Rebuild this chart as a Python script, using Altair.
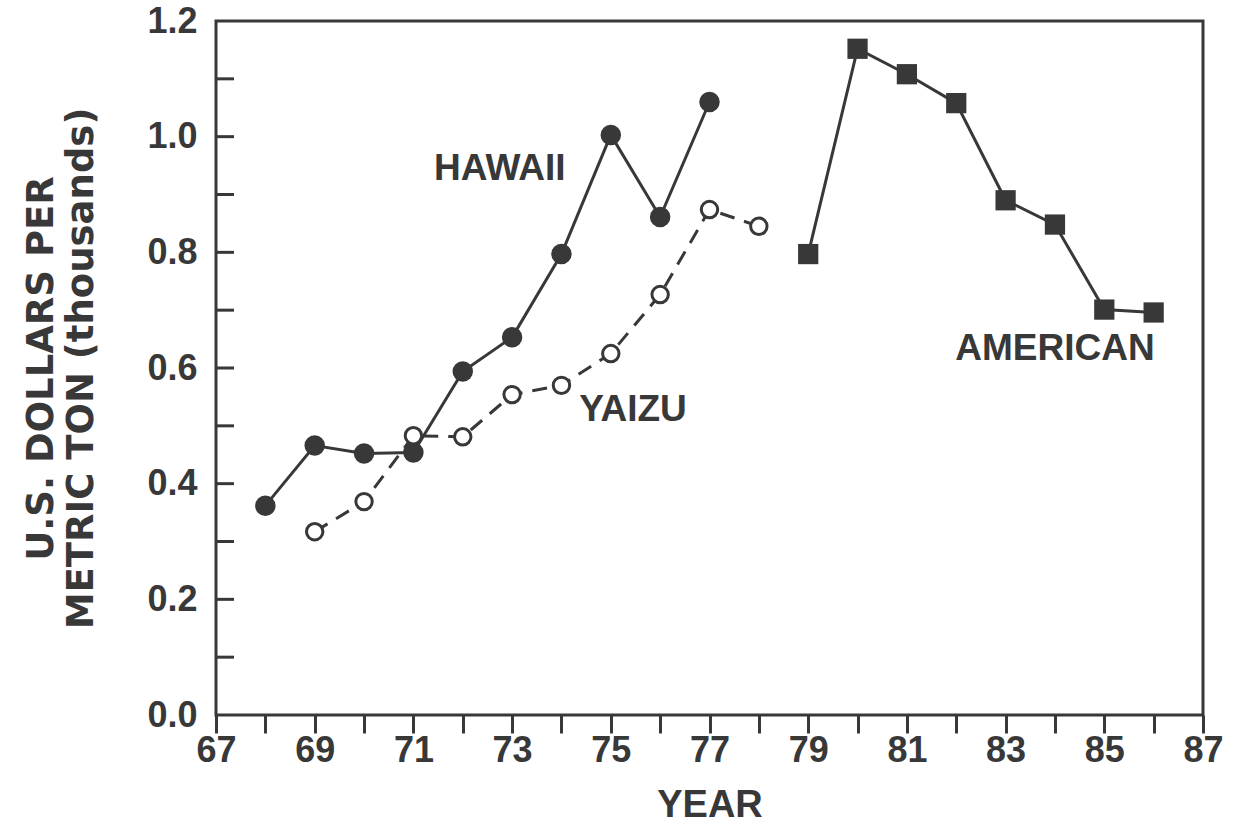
import altair as alt
import pandas as pd

# Price series (thousand US$ per metric ton) by year
hawaii_years = [68, 69, 70, 71, 72, 73, 74, 75, 76, 77]
hawaii_price = [0.362, 0.466, 0.452, 0.454, 0.594, 0.653, 0.797, 1.003, 0.861, 1.060]

yaizu_years = [69, 70, 71, 72, 73, 74, 75, 76, 77, 78]
yaizu_price = [0.317, 0.369, 0.483, 0.481, 0.554, 0.570, 0.625, 0.727, 0.874, 0.845]

american_years = [79, 80, 81, 82, 83, 84, 85, 86]
american_price = [0.797, 1.152, 1.108, 1.058, 0.890, 0.848, 0.701, 0.696]

# Series labels placed in data coordinates
label_text = ["HAWAII", "YAIZU", "AMERICAN"]
label_year = [72.75, 75.45, 84.0]
label_price = [0.944, 0.528, 0.632]

x_ticks = list(range(67, 88))
y_ticks = [round(i * 0.1, 1) for i in range(0, 13)]
y_inner_ticks = [round(i * 0.1, 1) for i in range(1, 12)]

INK = "#383838"
FONT = "Liberation Sans"
WIDE_FONT = "DejaVu Sans"

hawaii = pd.DataFrame({"year": hawaii_years, "price": hawaii_price})
yaizu = pd.DataFrame({"year": yaizu_years, "price": yaizu_price})
american = pd.DataFrame({"year": american_years, "price": american_price})
labels = pd.DataFrame({"text": label_text, "year": label_year, "price": label_price})
yt = pd.DataFrame({"price": y_inner_ticks})

x_scale = alt.Scale(domain=[67, 87], nice=False, zero=False)
y_scale = alt.Scale(domain=[0, 1.2], nice=False)

x_enc = alt.X(
    "year:Q",
    scale=x_scale,
    axis=alt.Axis(
        title="YEAR",
        values=x_ticks,
        labelExpr="datum.value % 2 == 1 ? datum.label : ''",
        tickSize=18,
        tickWidth=3,
        tickColor=INK,
        domain=False,
        grid=False,
        labelFontSize=36,
        labelFont=FONT,
        labelFontWeight="bold",
        labelColor=INK,
        labelPadding=0,
        titleFontSize=38,
        titleFont=FONT,
        titleFontWeight="bold",
        titleColor=INK,
        titlePadding=18,
        labelFlush=False,
    ),
)
y_enc = alt.Y(
    "price:Q",
    scale=y_scale,
    axis=alt.Axis(
        title=["U.S. DOLLARS PER", "METRIC TON (thousands)"],
        values=y_ticks,
        format=".1f",
        labelExpr="round(datum.value * 10) % 2 == 0 ? datum.label : ''",
        ticks=False,
        domain=False,
        grid=False,
        labelFontSize=36,
        labelFont=FONT,
        labelFontWeight="bold",
        labelColor=INK,
        labelPadding=19,
        titleFontSize=37,
        titleFont=WIDE_FONT,
        titleFontWeight="bold",
        titleColor=INK,
        titlePadding=46,
        titleLineHeight=40,
        labelFlush=False,
    ),
)

hawaii_line = alt.Chart(hawaii).mark_line(color=INK, strokeWidth=3).encode(x=x_enc, y=y_enc)
hawaii_pts = alt.Chart(hawaii).mark_point(
    shape="circle", filled=True, color=INK, size=420, opacity=1
).encode(x="year:Q", y="price:Q")

yaizu_line = alt.Chart(yaizu).mark_line(
    color=INK, strokeWidth=3, strokeDash=[15, 10]
).encode(x="year:Q", y="price:Q")
yaizu_pts = alt.Chart(yaizu).mark_point(
    shape="circle", filled=True, fill="white", stroke=INK, strokeWidth=3, size=270, opacity=1
).encode(x="year:Q", y="price:Q")

american_line = alt.Chart(american).mark_line(color=INK, strokeWidth=3).encode(x="year:Q", y="price:Q")
american_pts = alt.Chart(american).mark_point(
    shape="square", filled=True, color=INK, size=410, opacity=1
).encode(x="year:Q", y="price:Q")

inner_ticks = alt.Chart(yt).mark_rule(color=INK, strokeWidth=3).encode(
    y="price:Q", x=alt.value(0), x2=alt.value(18)
)

text = alt.Chart(labels).mark_text(
    font=FONT, fontSize=37, fontWeight="bold", color=INK, align="center", baseline="middle"
).encode(x="year:Q", y="price:Q", text="text:N")

chart = (
    alt.layer(
        hawaii_line, yaizu_line, american_line, inner_ticks,
        hawaii_pts, yaizu_pts, american_pts, text
    )
    .properties(
        width=987,
        height=694,
        autosize=alt.AutoSizeParams(type="none"),
        padding={"left": 216, "top": 21, "right": 37, "bottom": 115},
        background="white",
    )
    .configure_view(stroke=INK, strokeWidth=3)
)

chart.save("out.html", embed_options={"renderer": "svg", "actions": False})
